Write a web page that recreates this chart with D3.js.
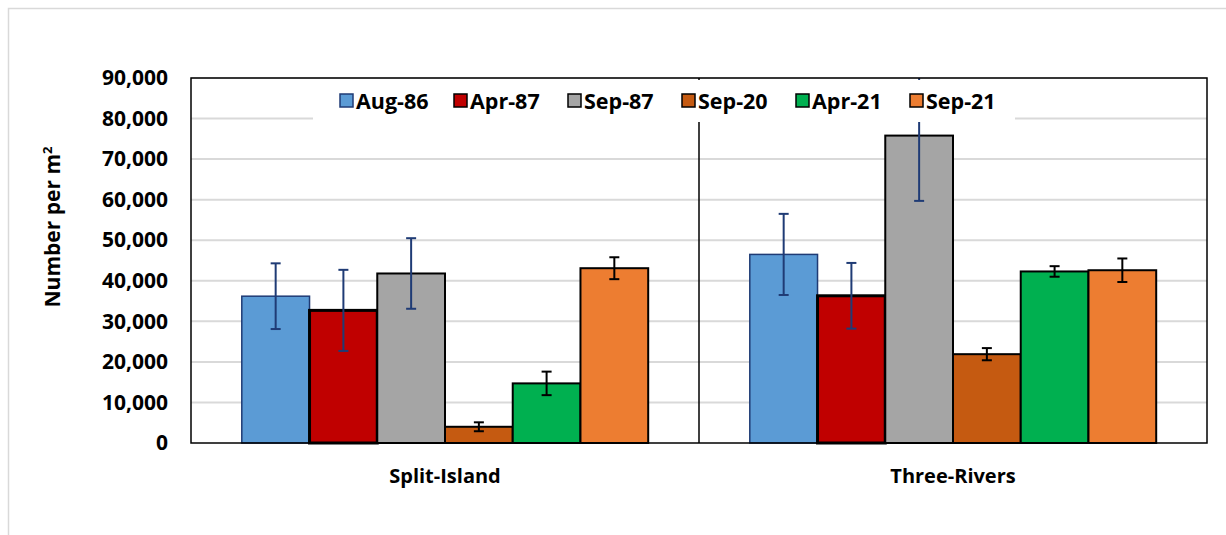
<!DOCTYPE html>
<html>
<head>
<meta charset="utf-8">
<script src="https://cdn.jsdelivr.net/npm/d3@7"></script>
<style>
  html, body { margin: 0; padding: 0; background: #fff; }
  svg { display: block; font-family: "Open Sans", "Noto Sans", sans-serif; }
</style>
</head>
<body>
<svg id="chart" width="1226" height="535"></svg>
<script>
const categories = ["Split-Island", "Three-Rivers"];
const seriesNames = ["Aug-86", "Apr-87", "Sep-87", "Sep-20", "Apr-21", "Sep-21"];
const splitIslandMeans = [36200, 32700, 41800, 4000, 14700, 43100];
const splitIslandErrors = [8100, 10000, 8700, 1100, 2900, 2700];
const threeRiversMeans = [46500, 36300, 75800, 21900, 42300, 42600];
const threeRiversErrors = [10000, 8100, 16100, 1500, 1300, 2900];
const yTicks = [0, 10000, 20000, 30000, 40000, 50000, 60000, 70000, 80000, 90000];

const fills = ["#5b9bd5", "#c00000", "#a5a5a5", "#c55a11", "#00b050", "#ed7d31"];
const strokes = ["#1f3b75", "#000", "#000", "#000", "#000", "#000"];
const strokeW = [1.5, 3, 2, 2, 2, 2];
const errColors = ["#1f3b75", "#1f3b75", "#1f3b75", "#000", "#000", "#000"];

const means = [splitIslandMeans, threeRiversMeans];
const errs = [splitIslandErrors, threeRiversErrors];
const data = [];
categories.forEach((c, ci) => seriesNames.forEach((s, si) => {
  data.push({cat: c, ser: s, si, v: means[ci][si], e: errs[ci][si]});
}));

const svg = d3.select("#chart");
const L = 191, R = 1207, T = 78, B = 443;

// outer frame
svg.append("path").attr("d", "M8.5,535 V8.5 H1226")
  .attr("fill", "none").attr("stroke", "#d9d9d9").attr("stroke-width", 1.5);

const x0 = d3.scaleBand().domain(categories).range([L, R]).padding(0);
const x1 = d3.scaleBand().domain(seriesNames).range([0, x0.bandwidth()]).paddingInner(0).paddingOuter(0.75);
const y = d3.scaleLinear().domain([0, 90000]).range([B, T]);

// gridlines
svg.append("g").selectAll("line").data(yTicks.filter(d => d > 0)).join("line")
  .attr("x1", L).attr("x2", R).attr("y1", d => y(d)).attr("y2", d => y(d))
  .attr("stroke", "#d9d9d9").attr("stroke-width", 2);

// separator
svg.append("line").attr("x1", x0("Three-Rivers")).attr("x2", x0("Three-Rivers"))
  .attr("y1", T).attr("y2", B).attr("stroke", "#000").attr("stroke-width", 1.5);

svg.append("defs").append("clipPath").attr("id", "clip")
  .append("rect").attr("x", L).attr("y", T).attr("width", R - L).attr("height", B - T);

// bars
const gBars = svg.append("g");
gBars.selectAll("rect").data(data).join("rect")
  .attr("x", d => x0(d.cat) + x1(d.ser))
  .attr("y", d => y(d.v))
  .attr("width", x1.bandwidth())
  .attr("height", d => B - y(d.v))
  .attr("fill", d => fills[d.si])
  .attr("stroke", d => strokes[d.si])
  .attr("stroke-width", d => strokeW[d.si]);

// error bars
const gErr = svg.append("g").attr("clip-path", "url(#clip)");
const eb = gErr.selectAll("g").data(data).join("g")
  .attr("stroke", d => errColors[d.si]).attr("stroke-width", 2);
const cx = d => x0(d.cat) + x1(d.ser) + x1.bandwidth() / 2;
eb.append("line").attr("x1", cx).attr("x2", cx)
  .attr("y1", d => y(d.v + d.e)).attr("y2", d => y(d.v - d.e));
eb.append("line").attr("x1", d => cx(d) - 5).attr("x2", d => cx(d) + 5)
  .attr("y1", d => y(d.v + d.e)).attr("y2", d => y(d.v + d.e));
eb.append("line").attr("x1", d => cx(d) - 5).attr("x2", d => cx(d) + 5)
  .attr("y1", d => y(d.v - d.e)).attr("y2", d => y(d.v - d.e));

// plot border
svg.append("rect").attr("x", L).attr("y", T).attr("width", R - L).attr("height", B - T)
  .attr("fill", "none").attr("stroke", "#000").attr("stroke-width", 1.5);

// y axis
const yAxis = d3.axisLeft(y).tickValues(yTicks).tickSize(0).tickPadding(0)
  .tickFormat(d3.format(","));
const gy = svg.append("g").attr("transform", `translate(168,0)`).call(yAxis);
gy.select(".domain").remove();
gy.selectAll("text").attr("font-size", 21).attr("font-weight", "bold")
  .attr("fill", "#000").attr("font-family", "Open Sans");

// x axis labels
const xAxis = d3.axisBottom(x0).tickSize(0).tickPadding(0);
const gx = svg.append("g").attr("transform", `translate(0,469)`).call(xAxis);
gx.select(".domain").remove();
gx.selectAll("text").attr("font-size", 20).attr("font-weight", "bold")
  .attr("fill", "#000").attr("font-family", "Open Sans");

// y title
const yt = svg.append("text").attr("transform", "translate(60,227) rotate(-90)")
  .attr("text-anchor", "middle").attr("font-size", 21).attr("font-weight", "bold").attr("fill", "#000");
yt.append("tspan").text("Number per m");
yt.append("tspan").text("2").attr("font-size", 13).attr("dy", -8);

// legend
svg.append("rect").attr("x", 313).attr("y", 80).attr("width", 702).attr("height", 42).attr("fill", "#fff");
const lg = svg.append("g").selectAll("g").data(seriesNames).join("g")
  .attr("transform", (d, i) => `translate(${340 + i * 114},94)`);
lg.append("rect").attr("width", 13).attr("height", 13)
  .attr("fill", (d, i) => fills[i]).attr("stroke", (d, i) => i === 0 ? "#1f3b75" : "#000").attr("stroke-width", 1.5);
lg.append("text").attr("x", 16).attr("y", 7).attr("dy", "0.35em")
  .attr("font-size", 21.5).attr("font-weight", "bold").attr("fill", "#000").text(d => d);
</script>
</body>
</html>
